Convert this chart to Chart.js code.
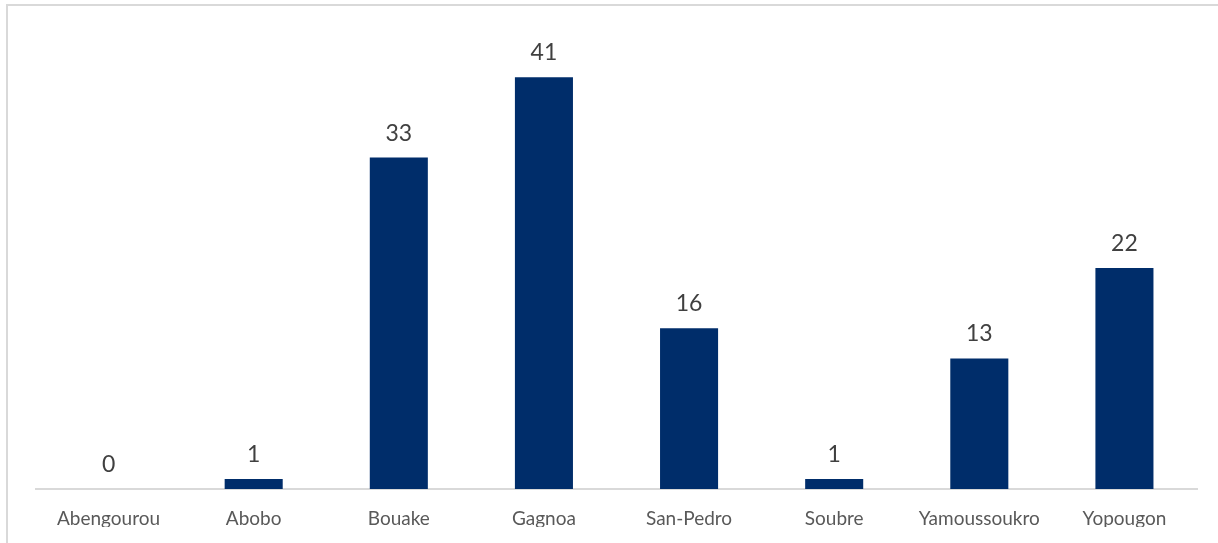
<!DOCTYPE html>
<html>
<head>
<meta charset="utf-8">
<script src="https://cdn.jsdelivr.net/npm/chart.js@4/dist/chart.umd.min.js"></script>
<style>
html,body{margin:0;padding:0;background:#fff;overflow:hidden;}
#frame{position:absolute;left:6px;top:4px;width:1300px;height:600px;border-left:2px solid #d9d9d9;border-top:2px solid #d9d9d9;}
#wrap{position:absolute;left:0;top:0;width:1218px;height:543px;}
</style>
</head>
<body>
<div id="frame"></div>
<div id="wrap"><canvas id="c" width="1218" height="543"></canvas></div>
<script>
const categories = ["Abengourou","Abobo","Bouake","Gagnoa","San-Pedro","Soubre","Yamoussoukro","Yopougon"];
const values = [0,1,33,41,16,1,13,22];

const labelPlugin = {
  id: 'barLabels',
  afterDatasetsDraw(chart) {
    const ctx = chart.ctx;
    const meta = chart.getDatasetMeta(0);
    ctx.save();
    ctx.font = '23px Lato, "Open Sans", sans-serif';
    ctx.fillStyle = '#404040';
    ctx.textAlign = 'center';
    ctx.textBaseline = 'alphabetic';
    meta.data.forEach((bar, i) => {
      ctx.fillText(String(values[i]), bar.x, bar.y - 17);
    });
    ctx.restore();
  }
};

new Chart(document.getElementById('c'), {
  type: 'bar',
  data: {
    labels: categories,
    datasets: [{
      data: values,
      backgroundColor: '#002d6a',
      borderWidth: 0,
      categoryPercentage: 1.0,
      barPercentage: 0.4
    }]
  },
  options: {
    responsive: false,
    animation: false,
    devicePixelRatio: 1,
    layout: { padding: { left: 36, right: 21, top: 37, bottom: 16 } },
    plugins: { legend: { display: false }, tooltip: { enabled: false } },
    scales: {
      x: {
        grid: { display: false, drawTicks: false },
        border: { display: true, color: '#d9d9d9', width: 2 },
        ticks: { color: '#595959', font: { family: 'Lato, "Open Sans", sans-serif', size: 19 }, padding: 18, maxRotation: 0, autoSkip: false },
        afterFit(scale) { scale.height = 38; }
      },
      y: {
        display: false,
        min: 0,
        max: 45
      }
    }
  },
  plugins: [labelPlugin]
});
</script>
</body>
</html>
